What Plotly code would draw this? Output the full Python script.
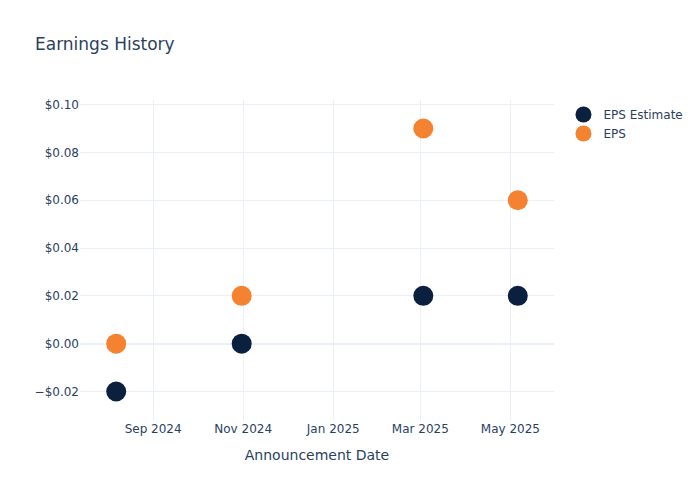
import plotly.graph_objects as go

dates = ["2024-08-07", "2024-10-31", "2025-03-03", "2025-05-06"]
eps_estimate = [-0.02, 0.00, 0.02, 0.02]
eps_actual = [0.00, 0.02, 0.09, 0.06]

fig = go.Figure()
fig.add_trace(go.Scatter(x=dates, y=eps_estimate, mode="markers", name="EPS Estimate",
                         marker=dict(color="#0b1f3f", size=20)))
fig.add_trace(go.Scatter(x=dates, y=eps_actual, mode="markers", name="EPS",
                         marker=dict(color="#f58231", size=20)))
fig.update_layout(
    template="plotly_white",
    width=700, height=500,
    font=dict(family="DejaVu Sans"),
    title=dict(text="Earnings History"),
    xaxis=dict(title=dict(text="Announcement Date")),
    yaxis=dict(tickformat="$.2f"),
)
fig.write_html("out.html", config={"displayModeBar": False},
               post_script="document.body.style.margin='0';")
